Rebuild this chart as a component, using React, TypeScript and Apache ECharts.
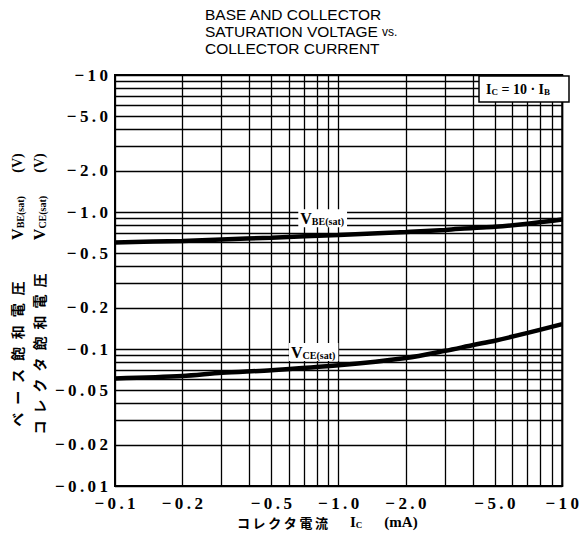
import React, { useEffect, useRef } from "react";
import * as echarts from "echarts";

// Collector current (mA, magnitude)
const currentMA = [0.1, 0.2, 0.3, 0.5, 1, 2, 3, 4, 5, 7, 10];
// Base-emitter saturation voltage (V, magnitude)
const vbeSat = [0.6, 0.615, 0.63, 0.65, 0.68, 0.715, 0.74, 0.765, 0.78, 0.82, 0.88];
// Collector-emitter saturation voltage (V, magnitude)
const vceSat = [0.061, 0.0635, 0.067, 0.07, 0.076, 0.086, 0.097, 0.107, 0.115, 0.131, 0.152];

const xTickValues = [0.1, 0.2, 0.5, 1, 2, 5, 10];
const xTickLabels = ["−0.1", "−0.2", "−0.5", "−1.0", "−2.0", "−5.0", "−10"];
const yTickValues = [0.01, 0.02, 0.05, 0.1, 0.2, 0.5, 1, 2, 5, 10];
const yTickLabels = ["−0.01", "−0.02", "−0.05", "−0.1", "−0.2", "−0.5", "−1.0", "−2.0", "−5.0", "−10"];

const xGrid = [0.1, 0.2, 0.3, 0.4, 0.5, 0.6, 0.7, 0.8, 0.9, 1, 2, 3, 4, 5, 6, 7, 8, 9, 10];
const yGrid = [
  0.01, 0.02, 0.03, 0.04, 0.05, 0.06, 0.07, 0.08, 0.09,
  0.1, 0.2, 0.3, 0.4, 0.5, 0.6, 0.7, 0.8, 0.9,
  1, 2, 3, 4, 5, 6, 7, 8, 9, 10,
];

const titleLines = ["BASE AND COLLECTOR", "SATURATION VOLTAGE {s|vs.}", "COLLECTOR CURRENT"];

const SERIF = "'Liberation Serif', 'DejaVu Serif', serif";
const SANS = "'Liberation Sans', Arial, sans-serif";
const JP = "'Noto Sans CJK JP', sans-serif";

function spaced(s: string) {
  return s.split("").join("\u2009");
}

function labelFor(values: number[], labels: string[]) {
  return (v: number) => {
    for (let i = 0; i < values.length; i++) {
      if (Math.abs(v - values[i]) / values[i] < 1e-6) return spaced(labels[i]);
    }
    return "";
  };
}

export default function App() {
  const ref = useRef<HTMLDivElement>(null);
  useEffect(() => {
    if (!ref.current) return;
    const chart = echarts.init(ref.current, null, { renderer: "svg" });
    const subRich = {
      v: { fontFamily: SERIF, fontWeight: "bold", fontSize: 16, color: "#000" },
      s: { fontFamily: SERIF, fontWeight: "bold", fontSize: 10, color: "#000", verticalAlign: "bottom", padding: [5, 0, 0, 0] },
    };
    const option: any = {
      animation: false,
      backgroundColor: "#fff",
      grid: { left: 115, right: 11, top: 75, bottom: 52, show: true, borderColor: "#000", borderWidth: 2 },
      xAxis: {
        type: "log",
        logBase: 10,
        min: 0.1,
        max: 10,
        axisLine: { show: true, lineStyle: { color: "#000", width: 2 } },
        axisTick: { show: false, customValues: xGrid },
        splitLine: { show: true, lineStyle: { color: "#000", width: 1.3 } },
        minorSplitLine: { show: false },
        axisLabel: {
          customValues: xTickValues,
          formatter: labelFor(xTickValues, xTickLabels),
          fontFamily: SERIF,
          fontWeight: "bold",
          fontSize: 17,
          color: "#000",
          margin: 9,
        },
      },
      yAxis: {
        type: "log",
        logBase: 10,
        min: 0.01,
        max: 10,
        axisLine: { show: true, lineStyle: { color: "#000", width: 2 } },
        axisTick: { show: false, customValues: yGrid },
        splitLine: { show: true, lineStyle: { color: "#000", width: 1.3 } },
        axisLabel: {
          customValues: yTickValues,
          formatter: labelFor(yTickValues, yTickLabels),
          fontFamily: SERIF,
          fontWeight: "bold",
          fontSize: 17,
          color: "#000",
          margin: 7,
        },
      },
      series: [
        {
          name: "VBE(sat)",
          type: "line",
          data: currentMA.map((x, i) => [x, vbeSat[i]]),
          smooth: 0.3,
          symbol: "none",
          lineStyle: { color: "#000", width: 4.5 },
          z: 5,
          markPoint: {
            symbol: "circle",
            symbolSize: 0,
            data: [{ coord: [0.66, 0.9] }],
            label: {
              show: true,
              position: "right",
              distance: 0,
              formatter: "{v|V}{s|BE(sat)}",
              backgroundColor: "#fff",
              padding: [1, 3, 1, 2],
              rich: subRich,
            },
          },
        },
        {
          name: "VCE(sat)",
          type: "line",
          data: currentMA.map((x, i) => [x, vceSat[i]]),
          smooth: 0.3,
          symbol: "none",
          lineStyle: { color: "#000", width: 4.5 },
          z: 5,
          markPoint: {
            symbol: "circle",
            symbolSize: 0,
            data: [{ coord: [0.6, 0.095] }],
            label: {
              show: true,
              position: "right",
              distance: 0,
              formatter: "{v|V}{s|CE(sat)}",
              backgroundColor: "#fff",
              padding: [1, 3, 1, 2],
              rich: subRich,
            },
          },
        },
      ],
      graphic: [
        {
          type: "text",
          left: 205,
          top: 6,
          style: {
            text: titleLines.join("\n"),
            fontFamily: SANS,
            fontSize: 15.5,
            lineHeight: 17,
            fill: "#000",
            rich: {
              s: { fontFamily: SANS, fontSize: 12, fill: "#000", lineHeight: 17 },
            },
          },
        },
        {
          type: "rect",
          shape: { x: 479, y: 76, width: 90, height: 26 },
          style: { fill: "#fff", stroke: "#000", lineWidth: 1.5 },
          z: 10,
        },
        {
          type: "text",
          x: 486,
          y: 89,
          z: 11,
          style: {
            text: "{v|I}{s|C}{v| = 10 · I}{s|B}",
            verticalAlign: "middle",
            rich: {
              v: { fontFamily: SERIF, fontWeight: "bold", fontSize: 14, fill: "#000" },
              s: { fontFamily: SERIF, fontWeight: "bold", fontSize: 9, fill: "#000", verticalAlign: "bottom", padding: [4, 0, 0, 0] },
            },
          },
        },
        // y-axis name, column 1
        {
          type: "text",
          x: 17,
          y: 354,
          rotation: Math.PI / 2,
          style: {
            text: "ベース飽和電圧".split("").join("\u2002\u200A"),
            fontFamily: JP,
            fontSize: 14,
            fontWeight: "bold",
            fill: "#000",
            align: "center",
            verticalAlign: "middle",
          },
        },
        {
          type: "text",
          x: 17,
          y: 218,
          rotation: Math.PI / 2,
          style: {
            text: "{v|V}{s|BE(sat)}",
            align: "center",
            verticalAlign: "middle",
            rich: subRich,
          },
        },
        {
          type: "text",
          x: 17,
          y: 163,
          rotation: Math.PI / 2,
          style: { text: "(V)", fontFamily: SERIF, fontWeight: "bold", fontSize: 14, fill: "#000", align: "center", verticalAlign: "middle" },
        },
        // y-axis name, column 2
        {
          type: "text",
          x: 39,
          y: 354,
          rotation: Math.PI / 2,
          style: {
            text: "コレクタ飽和電圧".split("").join("\u2002"),
            fontFamily: JP,
            fontSize: 14,
            fontWeight: "bold",
            fill: "#000",
            align: "center",
            verticalAlign: "middle",
          },
        },
        {
          type: "text",
          x: 39,
          y: 218,
          rotation: Math.PI / 2,
          style: {
            text: "{v|V}{s|CE(sat)}",
            align: "center",
            verticalAlign: "middle",
            rich: subRich,
          },
        },
        {
          type: "text",
          x: 39,
          y: 163,
          rotation: Math.PI / 2,
          style: { text: "(V)", fontFamily: SERIF, fontWeight: "bold", fontSize: 14, fill: "#000", align: "center", verticalAlign: "middle" },
        },
        // x-axis name
        {
          type: "text",
          x: 237,
          y: 522,
          style: {
            text: "{j|コ\u2009レ\u2009ク\u2009タ\u2009電\u2009流}{g| }{v|I}{s|C}{g| }{v|(mA)}",
            verticalAlign: "middle",
            rich: {
              j: { fontFamily: JP, fontSize: 13, fontWeight: "bold", fill: "#000" },
              g: { width: 22 },
              v: { fontFamily: SERIF, fontWeight: "bold", fontSize: 15, fill: "#000" },
              s: { fontFamily: SERIF, fontWeight: "bold", fontSize: 9, fill: "#000", verticalAlign: "bottom", padding: [4, 0, 0, 0] },
            },
          },
        },
      ],
    };
    chart.setOption(option);
    return () => chart.dispose();
  }, []);
  return (
    <div
      ref={ref}
      style={{ position: "absolute", left: 0, top: 0, width: 582, height: 538 }}
    />
  );
}
